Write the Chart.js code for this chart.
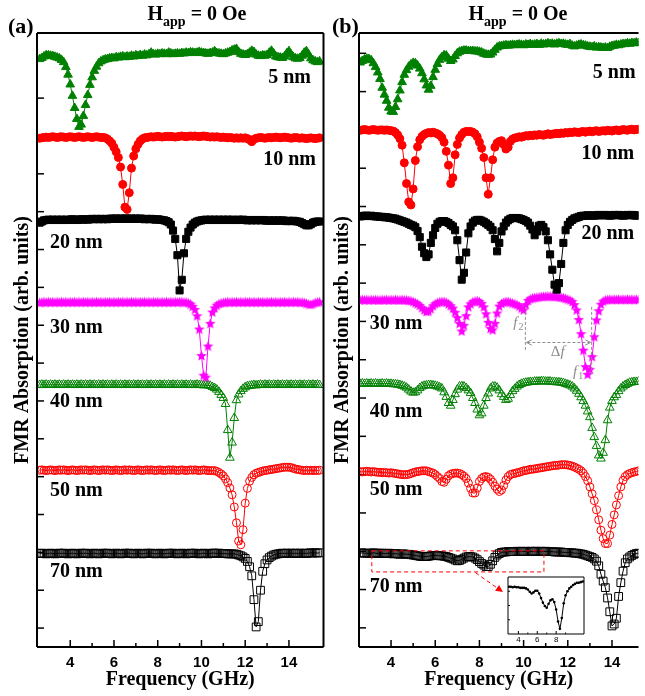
<!DOCTYPE html>
<html><head><meta charset="utf-8">
<script src="https://cdn.jsdelivr.net/npm/chart.js@4/dist/chart.umd.min.js"></script>
<style>
html,body{margin:0;padding:0;background:#fff;overflow:hidden;width:645px;height:696px;}
#wrap{position:relative;width:645px;height:696px;overflow:hidden;}
canvas{position:absolute;}
.lbl{position:absolute;font-family:"Liberation Serif","Times New Roman",serif;font-weight:bold;color:#000;white-space:nowrap;line-height:1;}
.hd{width:200px;text-align:center;font-size:20px;}
.hd span{font-size:14px;position:relative;top:6px;}
</style></head><body>
<div id="wrap">
<canvas id="ca" width="330" height="696" style="left:0;top:0;width:330px;height:696px"></canvas>
<canvas id="cb" width="325" height="696" style="left:320px;top:0;width:325px;height:696px"></canvas>
<canvas id="ci" width="110" height="76" style="left:490px;top:570px;width:110px;height:76px"></canvas>
<div class="lbl" style="left:8px;top:15px;font-size:22px">(a)</div>
<div class="lbl" style="left:332px;top:15px;font-size:22px">(b)</div>
<div class="lbl hd" style="left:97px;top:3px">H<span>app</span> = 0 Oe</div>
<div class="lbl hd" style="left:418px;top:3px">H<span>app</span> = 0 Oe</div>
</div>
<script>
// ---------------- DATA ----------------
const freq = [2.6,2.7,2.8,2.9,3.0,3.1,3.2,3.3,3.4,3.5,
3.6,3.7,3.8,3.9,4.0,4.1,4.2,4.3,4.4,4.5,
4.6,4.7,4.8,4.9,5.0,5.1,5.2,5.3,5.4,5.5,
5.6,5.7,5.8,5.9,6.0,6.1,6.2,6.3,6.4,6.5,
6.6,6.7,6.8,6.9,7.0,7.1,7.2,7.3,7.4,7.5,
7.6,7.7,7.8,7.9,8.0,8.1,8.2,8.3,8.4,8.5,
8.6,8.7,8.8,8.9,9.0,9.1,9.2,9.3,9.4,9.5,
9.6,9.7,9.8,9.9,10.0,10.1,10.2,10.3,10.4,10.5,
10.6,10.7,10.8,10.9,11.0,11.1,11.2,11.3,11.4,11.5,
11.6,11.7,11.8,11.9,12.0,12.1,12.2,12.3,12.4,12.5,
12.6,12.7,12.8,12.9,13.0,13.1,13.2,13.3,13.4,13.5,
13.6,13.7,13.8,13.9,14.0,14.1,14.2,14.3,14.4,14.5,
14.6,14.7,14.8,14.9,15.0,15.1,15.2,15.3,15.4];

const thickness = ['5 nm','10 nm','20 nm','30 nm','40 nm','50 nm','70 nm'];
const xTickLabels = [4,6,8,10,12,14];
const insetTickLabels = [4,6,8,10];

// Panel (a) — offset FMR absorption spectra
const absA5 = [15.03,15.06,15.10,15.13,15.13,15.12,15.11,15.09,15.07,15.05,
15.01,14.95,14.82,14.62,14.36,14.06,13.74,13.45,13.24,13.30,
13.53,13.82,14.08,14.35,14.55,14.72,14.83,14.92,14.97,15.00,
15.02,15.03,15.05,15.06,15.05,15.08,15.07,15.09,15.10,15.08,
15.10,15.09,15.12,15.10,15.13,15.11,15.14,15.12,15.15,15.13,
15.16,15.20,15.16,15.15,15.17,15.16,15.18,15.17,15.16,15.20,
15.18,15.16,15.17,15.18,15.17,15.19,15.18,15.20,15.19,15.21,
15.20,15.19,15.20,15.22,15.20,15.19,15.18,15.17,15.19,15.20,
15.24,15.19,15.18,15.17,15.16,15.18,15.20,15.22,15.26,15.28,
15.30,15.22,15.17,15.15,15.14,15.16,15.20,15.25,15.22,15.15,
15.12,15.11,15.13,15.12,15.14,15.20,15.25,15.18,15.10,15.08,
15.07,15.06,15.10,15.18,15.24,15.15,15.08,15.05,15.04,15.06,
15.12,15.20,15.24,15.15,15.05,15.00,14.97,14.95,14.97];
const absA10 = [12.94,12.95,12.96,12.97,12.96,12.97,12.98,12.97,12.96,12.97,
12.98,12.97,12.96,12.97,12.98,12.97,12.96,12.97,12.98,12.97,
12.96,12.97,12.98,12.97,12.96,12.97,12.98,12.97,12.96,12.96,
12.95,12.92,12.87,12.81,12.70,12.58,12.43,12.18,11.72,11.12,
11.06,11.50,12.15,12.47,12.66,12.78,12.87,12.92,12.95,12.96,
12.97,12.98,12.97,12.98,12.99,12.98,12.97,12.98,12.99,12.98,
12.99,12.98,12.97,12.98,12.99,13.00,12.99,12.98,12.99,13.00,
12.99,13.00,12.99,12.98,12.99,13.00,12.99,12.98,12.97,12.98,
12.97,12.98,12.97,12.96,12.97,12.96,12.95,12.96,12.95,12.94,
12.95,12.94,12.95,12.94,12.95,12.93,12.90,12.85,12.91,12.94,
12.95,12.96,12.95,12.94,12.95,12.96,12.95,12.96,12.97,12.96,
12.95,12.96,12.97,12.96,12.95,12.94,12.95,12.96,12.95,12.94,
12.95,12.94,12.93,12.94,12.95,12.94,12.93,12.94,12.95];
const absA20 = [10.71,10.74,10.77,10.78,10.79,10.78,10.79,10.78,10.79,10.78,
10.79,10.78,10.79,10.78,10.79,10.80,10.79,10.78,10.79,10.80,
10.79,10.80,10.79,10.80,10.81,10.80,10.81,10.80,10.81,10.80,
10.81,10.80,10.81,10.82,10.81,10.82,10.81,10.82,10.81,10.82,
10.82,10.81,10.82,10.81,10.82,10.81,10.82,10.81,10.80,10.81,
10.80,10.81,10.80,10.79,10.80,10.79,10.78,10.77,10.75,10.72,
10.66,10.50,10.28,9.85,8.92,9.20,9.90,10.28,10.47,10.58,
10.66,10.71,10.74,10.76,10.77,10.78,10.79,10.78,10.79,10.78,
10.79,10.78,10.79,10.78,10.79,10.78,10.79,10.78,10.79,10.78,
10.78,10.79,10.78,10.79,10.78,10.77,10.78,10.77,10.78,10.77,
10.78,10.77,10.78,10.77,10.76,10.77,10.76,10.77,10.76,10.77,
10.76,10.77,10.76,10.75,10.76,10.75,10.76,10.75,10.74,10.73,
10.70,10.67,10.64,10.64,10.67,10.71,10.73,10.74,10.74];
const absA30 = [8.60,8.61,8.62,8.61,8.62,8.61,8.62,8.61,8.62,8.61,
8.62,8.61,8.62,8.61,8.62,8.61,8.62,8.61,8.62,8.61,
8.62,8.61,8.62,8.61,8.62,8.61,8.62,8.61,8.62,8.61,
8.62,8.61,8.62,8.61,8.62,8.61,8.62,8.61,8.62,8.61,
8.62,8.61,8.62,8.61,8.62,8.61,8.62,8.61,8.62,8.61,
8.62,8.61,8.62,8.61,8.62,8.61,8.62,8.61,8.62,8.61,
8.62,8.61,8.62,8.61,8.62,8.62,8.61,8.61,8.59,8.56,
8.50,8.42,8.25,7.90,7.20,6.68,6.63,7.45,8.05,8.35,
8.46,8.53,8.57,8.59,8.60,8.61,8.62,8.61,8.62,8.61,
8.62,8.61,8.62,8.61,8.62,8.61,8.62,8.61,8.62,8.61,
8.62,8.61,8.62,8.61,8.62,8.61,8.62,8.61,8.62,8.61,
8.62,8.61,8.62,8.61,8.62,8.61,8.62,8.61,8.62,8.61,
8.61,8.60,8.58,8.56,8.55,8.57,8.60,8.61,8.62];
const absA40 = [6.42,6.43,6.42,6.43,6.42,6.43,6.42,6.43,6.42,6.43,
6.42,6.43,6.42,6.43,6.42,6.43,6.42,6.43,6.42,6.43,
6.42,6.43,6.42,6.43,6.42,6.43,6.42,6.43,6.42,6.43,
6.42,6.43,6.42,6.43,6.42,6.43,6.42,6.43,6.42,6.43,
6.42,6.43,6.42,6.43,6.42,6.43,6.42,6.43,6.42,6.43,
6.42,6.43,6.42,6.43,6.42,6.43,6.42,6.43,6.42,6.43,
6.42,6.43,6.42,6.43,6.42,6.43,6.42,6.43,6.42,6.43,
6.42,6.42,6.43,6.42,6.42,6.41,6.42,6.41,6.40,6.37,
6.34,6.30,6.24,6.16,6.08,5.92,5.23,4.50,4.90,5.55,
6.02,6.17,6.26,6.32,6.36,6.39,6.40,6.41,6.42,6.41,
6.42,6.43,6.42,6.43,6.42,6.43,6.42,6.43,6.42,6.43,
6.42,6.43,6.42,6.43,6.42,6.43,6.42,6.43,6.42,6.43,
6.42,6.43,6.42,6.43,6.42,6.43,6.42,6.43,6.42];
const absA50 = [4.17,4.18,4.17,4.16,4.17,4.18,4.17,4.16,4.17,4.18,
4.17,4.18,4.17,4.16,4.17,4.18,4.17,4.16,4.17,4.18,
4.17,4.18,4.17,4.16,4.17,4.18,4.17,4.16,4.17,4.18,
4.17,4.18,4.17,4.16,4.17,4.18,4.17,4.16,4.17,4.18,
4.17,4.18,4.17,4.16,4.17,4.18,4.17,4.16,4.17,4.18,
4.17,4.18,4.17,4.16,4.17,4.18,4.17,4.16,4.17,4.18,
4.17,4.18,4.17,4.16,4.17,4.18,4.17,4.16,4.17,4.18,
4.17,4.18,4.17,4.16,4.17,4.18,4.17,4.16,4.16,4.16,
4.16,4.14,4.11,4.07,4.02,3.94,3.84,3.70,3.52,3.20,
2.78,2.30,2.20,2.60,3.30,3.69,3.88,3.98,4.05,4.09,
4.11,4.13,4.15,4.16,4.17,4.18,4.19,4.20,4.21,4.22,
4.23,4.24,4.25,4.25,4.25,4.24,4.22,4.20,4.19,4.18,
4.17,4.16,4.17,4.16,4.17,4.16,4.17,4.16,4.17];
const absA70 = [1.97,1.98,1.97,1.96,1.97,1.98,1.97,1.96,1.97,1.98,
1.97,1.98,1.97,1.96,1.97,1.98,1.97,1.96,1.97,1.98,
1.97,1.98,1.97,1.96,1.97,1.98,1.97,1.96,1.97,1.98,
1.97,1.98,1.97,1.96,1.97,1.98,1.97,1.96,1.97,1.98,
1.97,1.98,1.97,1.96,1.97,1.98,1.97,1.96,1.97,1.98,
1.97,1.98,1.97,1.96,1.97,1.98,1.97,1.96,1.97,1.98,
1.97,1.98,1.97,1.96,1.97,1.98,1.97,1.96,1.97,1.98,
1.97,1.98,1.97,1.96,1.97,1.98,1.97,1.96,1.97,1.98,
1.98,1.97,1.98,1.97,1.97,1.97,1.96,1.96,1.96,1.96,
1.95,1.93,1.91,1.88,1.84,1.76,1.62,1.38,0.75,0.03,
0.17,1.00,1.50,1.70,1.80,1.86,1.90,1.93,1.95,1.96,
1.97,1.98,1.97,1.98,1.97,1.98,1.97,1.98,1.97,1.98,
1.97,1.98,1.97,1.98,1.99,1.98,1.99,1.98,1.99];

// Panel (b)
const absB5 = [14.76,14.80,14.84,14.86,14.85,14.82,14.74,14.64,14.50,14.33,
14.10,13.92,13.76,13.58,13.48,13.47,13.60,13.80,14.03,14.25,
14.44,14.56,14.65,14.71,14.75,14.74,14.68,14.60,14.48,14.32,
14.16,14.05,14.15,14.38,14.57,14.72,14.83,14.90,14.95,14.94,
14.86,14.80,14.84,14.93,15.00,15.04,15.06,15.07,15.07,15.06,
15.06,15.06,15.05,15.05,15.04,15.02,14.99,14.97,14.96,14.97,
15.02,15.09,15.15,15.18,15.19,15.20,15.21,15.20,15.21,15.22,
15.21,15.22,15.23,15.22,15.21,15.23,15.22,15.24,15.22,15.23,
15.24,15.22,15.25,15.23,15.24,15.26,15.24,15.25,15.23,15.25,
15.26,15.24,15.25,15.23,15.22,15.24,15.20,15.18,15.20,15.22,
15.23,15.21,15.20,15.18,15.17,15.16,15.18,15.15,15.16,15.15,
15.14,15.15,15.14,15.17,15.19,15.20,15.22,15.21,15.23,15.24,
15.24,15.26,15.25,15.27,15.26,15.28,15.27,15.28,15.27];
const absB10 = [12.99,13.00,13.01,13.00,12.99,13.00,13.01,13.00,12.99,13.00,
13.00,12.99,13.00,12.99,12.98,12.97,12.93,12.87,12.77,12.60,
12.14,11.60,11.12,11.04,11.46,12.20,12.56,12.74,12.83,12.88,
12.91,12.93,12.92,12.94,12.92,12.90,12.86,12.80,12.68,12.44,
12.08,11.60,11.75,12.35,12.62,12.79,12.88,12.94,12.96,12.96,
12.96,12.94,12.90,12.82,12.68,12.52,12.28,11.75,11.32,11.75,
12.22,12.55,12.66,12.70,12.72,12.62,12.50,12.55,12.70,12.76,
12.79,12.80,12.82,12.81,12.83,12.85,12.84,12.86,12.85,12.87,
12.86,12.88,12.87,12.86,12.88,12.90,12.88,12.89,12.90,12.91,
12.90,12.92,12.91,12.93,12.92,12.94,12.93,12.95,12.94,12.93,
12.95,12.96,12.94,12.96,12.97,12.95,12.97,12.98,12.96,12.97,
12.98,12.97,12.99,12.98,12.97,12.99,13.00,12.98,12.99,13.01,
13.00,12.99,13.01,13.02,13.00,13.01,13.02,13.01,13.02];
const absB20 = [10.74,10.75,10.76,10.76,10.75,10.76,10.75,10.74,10.74,10.73,
10.73,10.72,10.72,10.71,10.70,10.69,10.68,10.66,10.64,10.62,
10.60,10.58,10.55,10.52,10.50,10.46,10.36,10.20,9.95,9.78,
9.68,9.75,10.05,10.25,10.44,10.55,10.60,10.62,10.62,10.60,
10.57,10.52,10.48,10.38,10.12,9.60,9.09,9.27,9.80,10.30,
10.48,10.58,10.63,10.65,10.65,10.63,10.60,10.56,10.52,10.47,
10.38,10.15,9.83,10.05,10.35,10.48,10.58,10.64,10.68,10.70,
10.70,10.70,10.69,10.67,10.65,10.62,10.58,10.50,10.40,10.25,
10.35,10.50,10.52,10.46,10.35,10.12,9.75,9.35,8.96,8.83,
9.00,9.50,10.05,10.38,10.52,10.60,10.65,10.69,10.71,10.73,
10.75,10.76,10.76,10.77,10.76,10.77,10.76,10.77,10.78,10.77,
10.77,10.78,10.77,10.76,10.77,10.78,10.77,10.78,10.77,10.76,
10.77,10.78,10.77,10.78,10.77,10.76,10.77,10.78,10.77];
const absB30 = [8.56,8.57,8.56,8.57,8.56,8.57,8.56,8.57,8.56,8.56,
8.57,8.56,8.57,8.56,8.57,8.56,8.57,8.56,8.56,8.57,
8.56,8.56,8.55,8.54,8.52,8.49,8.46,8.42,8.36,8.30,
8.26,8.27,8.33,8.41,8.46,8.49,8.51,8.52,8.52,8.50,
8.46,8.41,8.35,8.24,8.10,7.95,7.75,7.90,8.15,8.38,
8.46,8.51,8.53,8.54,8.52,8.47,8.38,8.20,7.98,7.82,
7.78,7.95,8.22,8.40,8.47,8.50,8.52,8.52,8.50,8.48,
8.46,8.44,8.40,8.35,8.30,8.44,8.55,8.59,8.61,8.62,
8.63,8.64,8.65,8.65,8.66,8.66,8.66,8.66,8.65,8.65,
8.64,8.63,8.62,8.60,8.58,8.56,8.52,8.44,8.30,8.05,
7.68,7.25,6.82,6.62,6.75,7.08,7.60,8.04,8.28,8.45,
8.53,8.56,8.57,8.58,8.57,8.58,8.57,8.58,8.57,8.58,
8.57,8.58,8.57,8.58,8.57,8.58,8.57,8.58,8.57];
const absB40 = [6.37,6.38,6.37,6.38,6.37,6.38,6.37,6.38,6.37,6.37,
6.38,6.37,6.38,6.37,6.37,6.36,6.36,6.35,6.34,6.32,
6.30,6.27,6.22,6.17,6.14,6.15,6.20,6.26,6.30,6.32,
6.33,6.34,6.34,6.33,6.32,6.30,6.28,6.25,6.15,6.03,
5.87,5.80,5.95,6.10,6.22,6.30,6.31,6.30,6.26,6.20,
6.13,6.00,5.87,5.70,5.55,5.60,5.80,6.00,6.12,6.25,
6.30,6.30,6.27,6.20,6.10,6.03,5.95,5.98,6.08,6.18,
6.24,6.30,6.34,6.37,6.39,6.40,6.41,6.42,6.42,6.43,
6.43,6.43,6.44,6.44,6.43,6.43,6.43,6.42,6.42,6.41,
6.41,6.40,6.39,6.37,6.35,6.33,6.30,6.25,6.19,6.11,
6.02,5.92,5.80,5.65,5.50,5.22,4.98,4.75,4.50,4.42,
4.57,4.90,5.42,5.75,5.92,6.02,6.08,6.18,6.25,6.30,
6.34,6.37,6.40,6.41,6.42,6.42,6.43,6.42,6.43];
const absB50 = [4.08,4.07,4.08,4.09,4.08,4.07,4.08,4.07,4.06,4.06,
4.05,4.06,4.05,4.04,4.05,4.04,4.03,4.02,4.01,4.00,
4.00,4.00,4.01,4.03,4.05,4.07,4.08,4.09,4.10,4.10,
4.10,4.08,4.06,4.04,4.00,3.95,3.90,3.82,3.80,3.88,
3.97,4.01,4.03,4.04,4.04,4.03,4.00,3.96,3.90,3.78,
3.64,3.52,3.52,3.65,3.82,3.90,3.94,3.95,3.93,3.88,
3.80,3.70,3.62,3.56,3.60,3.72,3.86,3.95,4.00,4.02,
4.03,4.05,4.06,4.08,4.10,4.11,4.12,4.14,4.14,4.15,
4.16,4.17,4.18,4.19,4.20,4.21,4.22,4.23,4.24,4.24,
4.25,4.26,4.26,4.26,4.25,4.24,4.22,4.20,4.17,4.14,
4.10,4.04,3.95,3.84,3.68,3.50,3.32,3.08,2.82,2.55,
2.33,2.20,2.20,2.42,2.70,2.95,3.21,3.45,3.68,3.85,
3.95,4.00,4.03,4.05,4.07,4.08,4.10,4.10,4.11];
const absB70 = [1.95,1.96,1.95,1.95,1.94,1.95,1.96,1.95,1.94,1.95,
1.95,1.94,1.94,1.95,1.94,1.93,1.94,1.93,1.92,1.93,
1.93,1.92,1.92,1.91,1.90,1.89,1.88,1.87,1.86,1.86,
1.86,1.87,1.88,1.89,1.89,1.89,1.88,1.88,1.87,1.86,
1.84,1.82,1.80,1.77,1.75,1.76,1.79,1.82,1.85,1.86,
1.86,1.85,1.82,1.78,1.73,1.68,1.64,1.60,1.60,1.66,
1.75,1.84,1.90,1.94,1.97,1.98,1.98,1.99,1.99,1.99,
1.99,2.00,1.99,2.00,1.99,2.00,1.99,2.00,1.99,2.00,
2.00,1.99,2.00,1.99,2.00,1.99,1.99,1.99,1.98,1.98,
1.98,1.98,1.97,1.97,1.97,1.96,1.96,1.95,1.95,1.94,
1.93,1.92,1.90,1.88,1.86,1.84,1.80,1.74,1.62,1.40,
1.22,1.05,0.78,0.42,0.05,0.10,0.25,0.82,1.18,1.48,
1.70,1.80,1.85,1.89,1.92,1.94,1.95,1.95,1.96];

// Inset (70 nm, low-frequency modes)
const insetFreq = [3.0,3.2,3.4,3.6,3.8,4.0,4.2,4.4,4.6,4.8,5.0,5.2,5.4,5.6,5.8,6.0,6.2,6.4,6.6,6.8,7.0,
7.2,7.4,7.6,7.8,8.0,8.2,8.4,8.6,8.8,9.0,9.2,9.4,9.6,9.8,10.0,10.2,10.4,10.6,10.8,11.0];
const insetAbs = [0.83,0.83,0.82,0.83,0.82,0.82,0.81,0.81,0.81,0.80,0.78,0.74,0.71,0.73,0.76,0.76,0.71,0.63,0.55,0.49,0.46,
0.53,0.59,0.61,0.56,0.43,0.22,0.09,0.28,0.54,0.68,0.75,0.80,0.83,0.86,0.88,0.90,0.90,0.91,0.92,0.92];

const seriesA = [absA5,absA10,absA20,absA30,absA40,absA50,absA70];
const seriesB = [absB5,absB10,absB20,absB30,absB40,absB50,absB70];

// ---------------- STYLE ----------------
Chart.defaults.color = '#000';
const SERIF = '"Liberation Serif","Times New Roman",serif';
const SANS = '"Liberation Sans",Arial,sans-serif';

function starImg(color, size){
  const c = document.createElement('canvas'); c.width = c.height = size;
  const g = c.getContext('2d'); g.fillStyle = color; g.beginPath();
  const cx = size/2, cy = size/2 + 0.5, R = size/2, r = R*0.45;
  for (let i=0;i<10;i++){ const a=-Math.PI/2+i*Math.PI/5; const rr=i%2?r:R;
    const px=cx+rr*Math.cos(a), py=cy+rr*Math.sin(a); if(i) g.lineTo(px,py); else g.moveTo(px,py); }
  g.closePath(); g.fill(); return c;
}
const STAR = starImg('#ff00ff', 11);

const styles = [
  {color:'#008000', ps:'triangle', r:5, fill:true},
  {color:'#ff0000', ps:'circle', r:4, fill:true},
  {color:'#000000', ps:'rect', r:5, fill:true},
  {color:'#ff00ff', ps:STAR, r:5, fill:true},
  {color:'#008000', ps:'triangle', r:5, fill:false},
  {color:'#ff0000', ps:'circle', r:4, fill:false},
  {color:'#000000', ps:'rect', r:5.5, fill:false}
];

function makeDatasets(series){
  return series.map((arr,k)=>{
    const s = styles[k];
    return {
      label: thickness[k],
      data: freq.map((f,i)=>({x:f, y:arr[i]})),
      borderColor: s.color, borderWidth: 1, tension: 0, fill: false,
      pointStyle: s.ps, pointRadius: s.r,
      pointBorderColor: s.color, pointBorderWidth: 1,
      pointBackgroundColor: s.fill ? s.color : 'rgba(0,0,0,0)'
    };
  });
}

function line(ctx,x1,y1,x2,y2){ ctx.beginPath(); ctx.moveTo(x1,y1); ctx.lineTo(x2,y2); ctx.stroke(); }

const framePlugin = {
  id: 'frame',
  beforeDatasetsDraw(chart, args, o){
    const {ctx, chartArea:a, scales:{x,y}} = chart;
    ctx.save();
    if (o.bg){ ctx.fillStyle='#fff'; ctx.fillRect(a.left,a.top,a.right-a.left,a.bottom-a.top); }
    ctx.strokeStyle = '#000'; ctx.lineWidth = o.tickW;
    x.ticks.forEach(t=>{ const px = x.getPixelForValue(t.value);
      const len = (t.value % 2 === 0) ? o.major : o.minor; line(ctx, px, a.bottom, px, a.bottom - len); });
    if (o.yTick) y.ticks.forEach(t=>{ const py = y.getPixelForValue(t.value); line(ctx, a.left, py, a.left + o.yTick, py); });
    ctx.restore();
  },
  afterDatasetsDraw(chart, args, o){
    const {ctx, chartArea:a, scales:{x,y}} = chart;
    ctx.save();
    ctx.strokeStyle = '#000'; ctx.lineWidth = o.frameW;
    const sides = o.sides;
    if (sides.includes('t')) line(ctx, a.left, a.top, a.right, a.top);
    if (sides.includes('b')) line(ctx, a.left, a.bottom, a.right, a.bottom);
    if (sides.includes('l')) line(ctx, a.left, a.top, a.left, a.bottom);
    if (sides.includes('r')) line(ctx, a.right, a.top, a.right, a.bottom);
    if (o.labels){
      ctx.fillStyle = '#000'; ctx.font = 'bold 20px ' + SERIF; ctx.textAlign = 'center'; ctx.textBaseline = 'middle';
      o.labels.forEach(l=>ctx.fillText(l.t, x.getPixelForValue(l.x), y.getPixelForValue(l.y)));
    }
    if (o.extra) o.extra(ctx, x, y, a);
    ctx.restore();
  }
};

function arrowHead(ctx, x, y, ang, size, filled){
  ctx.beginPath();
  ctx.moveTo(x - size*Math.cos(ang - 0.45), y - size*Math.sin(ang - 0.45));
  ctx.lineTo(x, y);
  ctx.lineTo(x - size*Math.cos(ang + 0.45), y - size*Math.sin(ang + 0.45));
  if (filled){ ctx.closePath(); ctx.fill(); } else ctx.stroke();
}

function fLabel(ctx, px, py, prefix, sub){
  ctx.fillStyle = '#8c8c8c'; ctx.textAlign = 'left'; ctx.textBaseline = 'alphabetic';
  let cx = px;
  if (prefix){ ctx.font = '15px ' + SERIF; ctx.fillText(prefix, cx, py); cx += ctx.measureText(prefix).width; }
  ctx.font = 'italic 15px ' + SERIF; ctx.fillText('f', cx, py); cx += ctx.measureText('f').width + 1;
  if (sub){ ctx.font = '10px ' + SERIF; ctx.fillText(sub, cx, py + 3); }
}

function annotB(ctx, x, y, a){
  // f2 / f1 / Δf markers on the 30 nm spectrum
  ctx.strokeStyle = '#8c8c8c'; ctx.fillStyle = '#8c8c8c'; ctx.lineWidth = 1; ctx.setLineDash([3,2]);
  const x2 = x.getPixelForValue(10.08), x1 = x.getPixelForValue(13.08);
  line(ctx, x2, y.getPixelForValue(8.38), x2, y.getPixelForValue(7.21));
  line(ctx, x1, y.getPixelForValue(8.38), x1, y.getPixelForValue(6.62));
  const ya = y.getPixelForValue(7.45);
  line(ctx, x2 + 2, ya, x1 - 2, ya);
  ctx.setLineDash([]);
  arrowHead(ctx, x2 + 1, ya, Math.PI, 6, false);
  arrowHead(ctx, x1 - 1, ya, 0, 6, false);
  fLabel(ctx, x.getPixelForValue(9.53), y.getPixelForValue(7.86), '', '2');
  fLabel(ctx, x.getPixelForValue(12.24), y.getPixelForValue(6.58), '', '1');
  fLabel(ctx, x.getPixelForValue(11.23), y.getPixelForValue(7.10), '\u0394', '');
  // red dashed box and arrow toward inset
  ctx.strokeStyle = '#ff0000'; ctx.fillStyle = '#ff0000'; ctx.setLineDash([4,3]);
  const bx1 = x.getPixelForValue(3.13), bx2 = x.getPixelForValue(10.92);
  const by1 = y.getPixelForValue(2.01), by2 = y.getPixelForValue(1.46);
  ctx.strokeRect(bx1, by1, bx2 - bx1, by2 - by1);
  const ax1 = x.getPixelForValue(7.82), ay1 = y.getPixelForValue(1.44);
  const ax2 = x.getPixelForValue(8.93), ay2 = y.getPixelForValue(0.99);
  line(ctx, ax1, ay1, ax2, ay2);
  ctx.setLineDash([]);
  arrowHead(ctx, ax2 + 3, ay2 + 2, Math.atan2(ay2 - ay1, ax2 - ax1), 8, true);
}

function panel(id, xMin, xMax, yMin, yMax, yW, padR, series, opts){
  return new Chart(document.getElementById(id), {
    type: 'line',
    data: {datasets: makeDatasets(series)},
    options: {
      responsive: false, animation: false, events: [],
      layout: {padding: {top: 33, right: padR, bottom: 0, left: 0}},
      plugins: {legend: {display: false}, tooltip: {enabled: false}, frame: opts},
      scales: {
        x: {
          type: 'linear', min: xMin, max: xMax,
          afterBuildTicks: s => { s.ticks = s.ticks.filter(t => Number.isInteger(t.value)); },
          afterFit: s => { s.height = 49; },
          grid: {display: false, drawTicks: false}, border: {display: false},
          ticks: {stepSize: 1, autoSkip: false, maxRotation: 0, padding: 7, color: '#000',
                  font: {family: SANS, weight: 'bold', size: 15},
                  callback: v => xTickLabels.includes(v) ? String(v) : ''},
          title: {display: true, text: 'Frequency (GHz)', color: '#000',
                  font: {family: SERIF, weight: 'bold', size: 20}, padding: {top: 0, bottom: 4}}
        },
        y: {
          type: 'linear', min: yMin, max: yMax,
          afterBuildTicks: s => { s.ticks = s.ticks.filter(t => Number.isInteger(t.value) && t.value >= 0); },
          afterFit: s => { s.width = yW; },
          grid: {display: false, drawTicks: false}, border: {display: false},
          ticks: {stepSize: 1, display: false},
          title: {display: true, text: 'FMR Absorption (arb. units)', color: '#000',
                  font: {family: SERIF, weight: 'bold', size: 20}, padding: {top: 11, bottom: 0}}
        }
      }
    },
    plugins: [framePlugin]
  });
}

panel('ca', 2.48, 15.58, -0.5, 15.72, 37, 2, seriesA, {
  tickW: 1.5, major: 7, minor: 4, yTick: 7, frameW: 2, sides: 'tblr',
  labels: [
    {t: thickness[0], x: 14.03, y: 14.53}, {t: thickness[1], x: 14.03, y: 12.36},
    {t: thickness[2], x: 4.28, y: 10.17}, {t: thickness[3], x: 4.28, y: 7.92},
    {t: thickness[4], x: 4.28, y: 5.97}, {t: thickness[5], x: 4.28, y: 3.62},
    {t: thickness[6], x: 4.28, y: 1.48}
  ]
});

panel('cb', 2.55, 15.2, -0.5, 15.53, 39, 0, seriesB, {
  tickW: 1.5, major: 7, minor: 4, yTick: 7, frameW: 2, sides: 'tbl',
  labels: [
    {t: thickness[0], x: 14.1, y: 14.49}, {t: thickness[1], x: 13.81, y: 12.38},
    {t: thickness[2], x: 13.81, y: 10.29}, {t: thickness[3], x: 4.23, y: 7.94},
    {t: thickness[4], x: 4.23, y: 5.64}, {t: thickness[5], x: 4.23, y: 3.6},
    {t: thickness[6], x: 4.23, y: 1.07}
  ],
  extra: annotB
});

// inset
new Chart(document.getElementById('ci'), {
  type: 'line',
  data: {datasets: [{
    data: insetFreq.map((f,i)=>({x:f, y:insetAbs[i]})),
    borderColor: '#000', borderWidth: 1, pointRadius: 1.3, pointBackgroundColor: '#000',
    pointBorderWidth: 0, tension: 0
  }]},
  options: {
    responsive: false, animation: false, events: [],
    layout: {padding: {top: 7, right: 16, bottom: 0, left: 0}},
    plugins: {legend: {display: false}, tooltip: {enabled: false},
      frame: {bg: true, tickW: 1, major: 3, minor: 1.5, yTick: 2, frameW: 1, sides: 'tblr'}},
    scales: {
      x: {type: 'linear', min: 2.9, max: 10.95,
          afterBuildTicks: s => { s.ticks = s.ticks.filter(t => Number.isInteger(t.value)); },
          afterFit: s => { s.height = 12; },
          grid: {display: false, drawTicks: false}, border: {display: false},
          ticks: {stepSize: 1, autoSkip: false, maxRotation: 0, padding: 1, color: '#000',
                  font: {family: SANS, size: 8},
                  callback: v => insetTickLabels.includes(v) ? String(v) : ''}},
      y: {type: 'linear', min: 0, max: 1,
          afterBuildTicks: s => { s.ticks = s.ticks.filter(t => t.value > 0 && t.value < 1); },
          afterFit: s => { s.width = 18; },
          grid: {display: false, drawTicks: false}, border: {display: false},
          ticks: {stepSize: 0.25, display: false}}
    }
  },
  plugins: [framePlugin]
});
</script>
</body></html>
